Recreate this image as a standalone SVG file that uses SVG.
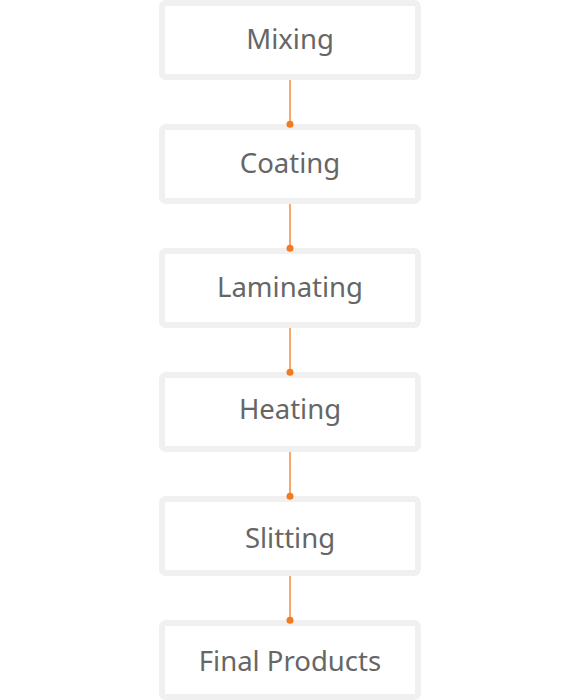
<svg xmlns="http://www.w3.org/2000/svg" width="580" height="700" viewBox="0 0 580 700">
<style>
.box rect{fill:#fff;stroke:#f0f0f0;stroke-width:6}
.box text{font-family:"Noto Sans","Open Sans",sans-serif;font-size:27.5px;fill:#666;text-anchor:middle}
.conn line{stroke:#f47920;stroke-width:1.3}
.conn circle{fill:#f47920}
</style>
<rect width="580" height="700" fill="#fff"/>
<g id="mixing" class="box"><rect x="162" y="3" width="256" height="74" rx="4"/><text x="290" y="49">Mixing</text></g>
<g id="coating" class="box"><rect x="162" y="127" width="256" height="74" rx="4"/><text x="290" y="173">Coating</text></g>
<g id="laminating" class="box"><rect x="162" y="251" width="256" height="74" rx="4"/><text x="290" y="297">Laminating</text></g>
<g id="heating" class="box"><rect x="162" y="375" width="256" height="74" rx="4"/><text x="290" y="419">Heating</text></g>
<g id="slitting" class="box"><rect x="162" y="499" width="256" height="74" rx="4"/><text x="290" y="548">Slitting</text></g>
<g id="final-products" class="box"><rect x="162" y="623" width="256" height="74" rx="4"/><text x="290" y="671">Final Products</text></g>
<g class="conn">
<line x1="290" y1="80" x2="290" y2="124"/><circle cx="290" cy="124.3" r="3.5"/>
<line x1="290" y1="204" x2="290" y2="248"/><circle cx="290" cy="248.3" r="3.5"/>
<line x1="290" y1="328" x2="290" y2="372"/><circle cx="290" cy="372.3" r="3.5"/>
<line x1="290" y1="452" x2="290" y2="496"/><circle cx="290" cy="496.3" r="3.5"/>
<line x1="290" y1="576" x2="290" y2="620"/><circle cx="290" cy="620.3" r="3.5"/>
</g>
</svg>
